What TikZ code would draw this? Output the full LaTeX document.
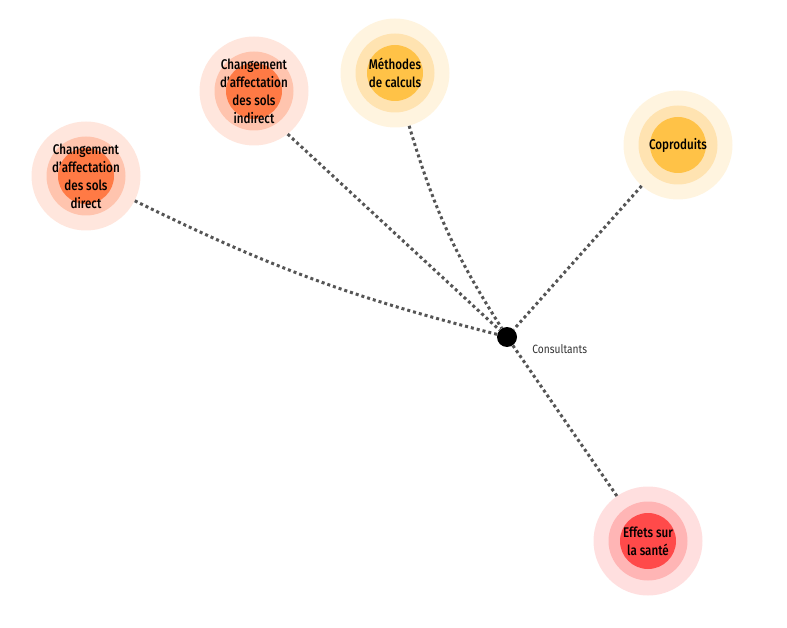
\documentclass[tikz,border=0pt]{standalone}
\usepackage{fontspec}
\setmainfont{Fira Sans}[UprightFont={* Medium}, FakeStretch=0.83]
\newfontfamily\hubfont{Fira Sans}[FakeStretch=0.85]
\usetikzlibrary{positioning}
\definecolor{orangeout}{HTML}{FFE6DD}
\definecolor{orangemid}{HTML}{FFC4AE}
\definecolor{orangein}{HTML}{FF7A45}
\definecolor{yellowout}{HTML}{FFF4DF}
\definecolor{yellowmid}{HTML}{FFE3B1}
\definecolor{yellowin}{HTML}{FFC247}
\definecolor{redout}{HTML}{FFDFDF}
\definecolor{redmid}{HTML}{FFB5B5}
\definecolor{redin}{HTML}{FF4A4A}
\definecolor{linkgray}{HTML}{555555}
\begin{document}
\begin{tikzpicture}[x=1pt, y=-1pt,
                    every node/.style={align=center, inner sep=0pt},
                    outer/.style={circle, minimum size=109pt},
                    middle/.style={circle, minimum size=79pt},
                    inner/.style={circle, minimum size=56pt},
                    label/.style={font=\fontsize{14}{18}\selectfont},
                    link/.style={draw=linkgray, line width=3pt, dash pattern=on 3pt off 3pt}]
      \useasboundingbox (0, 0) rectangle (787, 628);
      % sols direct
      \node[outer, fill=orangeout] (direct) at (86, 176) {};
      \node[middle, fill=orangemid] at (direct) {};
      \node[inner, fill=orangein] at (direct) {};
      \node[label] (direct_text) at (direct) {Changement\\d'affectation\\des sols\\direct};
      % sols indirect
      \node[outer, fill=orangeout] (indirect) at (254, 91) {};
      \node[middle, fill=orangemid] at (indirect) {};
      \node[inner, fill=orangein] at (indirect) {};
      \node[label] (indirect_text) at (indirect) {Changement\\d'affectation\\des sols\\indirect};
      % methodes
      \node[outer, fill=yellowout] (methodes) at (395, 73) {};
      \node[middle, fill=yellowmid] at (methodes) {};
      \node[inner, fill=yellowin] at (methodes) {};
      \node[label] (methodes_text) at (methodes) {Méthodes\\de calculs};
      % coproduits
      \node[outer, fill=yellowout] (coproduits) at (678, 145) {};
      \node[middle, fill=yellowmid] at (coproduits) {};
      \node[inner, fill=yellowin] at (coproduits) {};
      \node[label] (coproduits_text) at (coproduits) {Coproduits};
      % sante
      \node[outer, fill=redout] (sante) at (648, 541) {};
      \node[middle, fill=redmid] at (sante) {};
      \node[inner, fill=redin] at (sante) {};
      \node[label] (sante_text) at (sante) {Effets sur\\la santé};
      % consultants
      \node[circle, fill=black, minimum size=20pt] (hub) at (507, 337) {};
      \node[anchor=west, text=black!80, font=\hubfont\fontsize{12}{14}\selectfont] (consultants) at ([xshift=15pt, yshift=-12pt]hub.east) {Consultants};
      \draw[link] (direct) to[bend right=6] (hub);
      \draw[link] (indirect.-52) -- (hub);
      \draw[link] (methodes) to[bend right=8] (hub);
      \draw[link] (coproduits) -- (hub);
      \draw[link] (sante) -- (hub);
    \end{tikzpicture}
\end{document}
